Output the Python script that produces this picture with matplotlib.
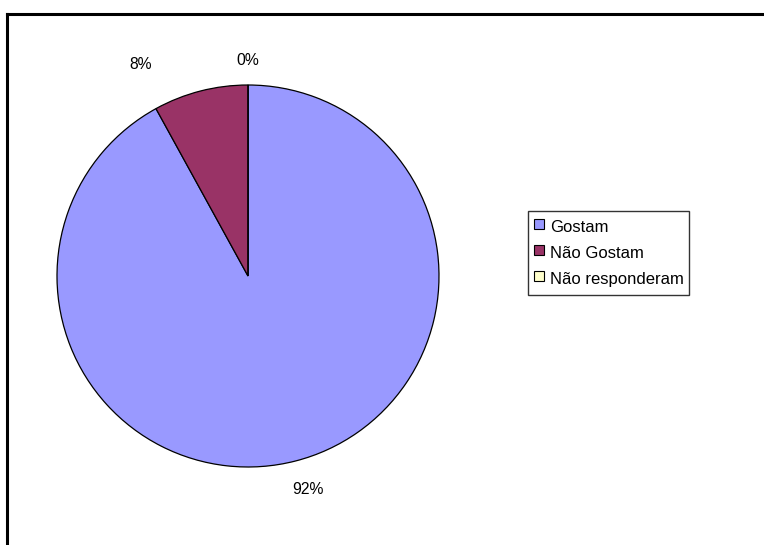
import matplotlib
matplotlib.use("Agg")
import matplotlib.pyplot as plt
from matplotlib.lines import Line2D

categories = ["Gostam", "Não Gostam", "Não responderam"]
values = [92, 8, 0]
pct_labels = ["92%", "8%", "0%"]
colors = ["#9999FF", "#993366", "#FFFFCC"]

plt.rcParams['font.family'] = ['Liberation Sans', 'DejaVu Sans']

W, H = 764, 545
fig = plt.figure(figsize=(W / 100, H / 100), dpi=100)
fig.patch.set_facecolor("white")

# outer chart border (only top and left visible in crop)
fig.add_artist(Line2D([7 / W, 7 / W], [0, 1 - 14 / H], color="black", lw=2.2, transform=fig.transFigure))
fig.add_artist(Line2D([7 / W, 1], [1 - 14 / H, 1 - 14 / H], color="black", lw=2.2, transform=fig.transFigure))

cx, cy, r = 248, 276, 191
ax = fig.add_axes([(cx - r) / W, (H - cy - r) / H, 2 * r / W, 2 * r / H])
wedges, _ = ax.pie(values, colors=colors, startangle=90, counterclock=False,
                   wedgeprops=dict(edgecolor="black", linewidth=0.9))
ax.set_xlim(-1, 1)
ax.set_ylim(-1, 1)
ax.set_aspect("equal")
ax.axis("off")

# label placement (data units relative to pie radius)
label_pos = [(0.314, -1.12), (-0.56, 1.105), (0.0, 1.13)]
for txt, (lx, ly) in zip(pct_labels, label_pos):
    ax.text(lx, ly, txt, ha="center", va="center", fontsize=11.3, clip_on=False)

handles = [Line2D([], [], marker="s", linestyle="none", markersize=6.5,
                  markerfacecolor=c, markeredgecolor="black", markeredgewidth=0.8)
           for c in colors]
leg = fig.legend(handles, categories, loc="upper left",
                 bbox_to_anchor=(528 / W, 1 - 211 / H), fontsize=12,
                 frameon=True, fancybox=False, edgecolor="black",
                 handlelength=0.75, handleheight=1.6, handletextpad=0.28,
                 labelspacing=0.28, borderpad=0.3, borderaxespad=0)
leg.get_frame().set_linewidth(1.0)

fig.savefig("out.png", dpi=100)
